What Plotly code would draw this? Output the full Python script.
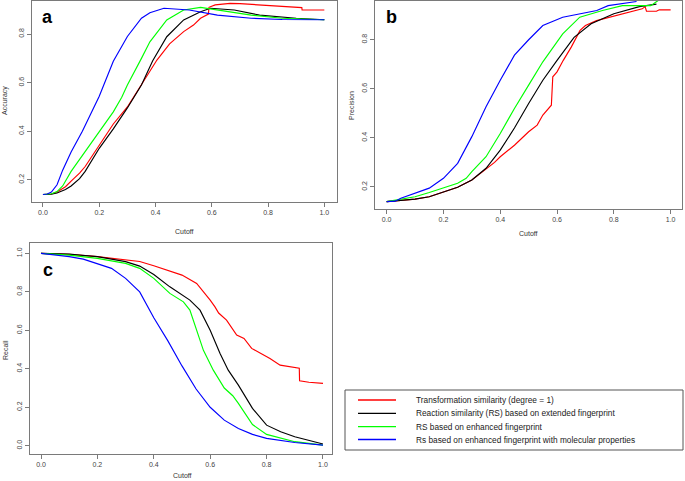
import plotly.graph_objects as go

W, H = 685, 481

# ---------------- data ----------------
series_names = [
    "Transformation similarity (degree = 1)",
    "Reaction similarity (RS) based on extended fingerprint",
    "RS based on enhanced fingerprint",
    "Rs based on enhanced fingerprint with molecular properties",
]
series_colors = ["#ff0000", "#000000", "#00ff00", "#0000ff"]

# Panel a: Accuracy vs cutoff
red_a_x = [0, 0.03, 0.05, 0.08, 0.1, 0.13, 0.15, 0.2, 0.25, 0.3, 0.35, 0.405, 0.45, 0.5, 0.535, 0.56, 0.588, 0.59, 0.612, 0.665, 0.7, 0.8, 0.854, 0.92, 0.921, 1.0]
red_a_y = [0.14, 0.142, 0.15, 0.172, 0.195, 0.228, 0.255, 0.345, 0.43, 0.50, 0.59, 0.693, 0.76, 0.81, 0.837, 0.865, 0.882, 0.91, 0.92, 0.926, 0.925, 0.918, 0.912, 0.909, 0.899, 0.899]
black_a_x = [0, 0.03, 0.05, 0.08, 0.1, 0.13, 0.15, 0.2, 0.25, 0.3, 0.35, 0.39, 0.44, 0.5, 0.56, 0.595, 0.68, 0.77, 0.9, 1.0]
black_a_y = [0.14, 0.141, 0.146, 0.16, 0.175, 0.205, 0.235, 0.33, 0.41, 0.496, 0.59, 0.69, 0.789, 0.858, 0.892, 0.906, 0.899, 0.878, 0.865, 0.859]
green_a_x = [0, 0.03, 0.05, 0.07, 0.1, 0.15, 0.2, 0.25, 0.28, 0.3, 0.35, 0.38, 0.44, 0.5, 0.56, 0.62, 0.74, 0.85, 1.0]
green_a_y = [0.14, 0.143, 0.152, 0.175, 0.235, 0.315, 0.40, 0.48, 0.54, 0.59, 0.70, 0.768, 0.858, 0.899, 0.91, 0.899, 0.878, 0.865, 0.859]
blue_a_x = [0, 0.015, 0.03, 0.05, 0.07, 0.1, 0.14, 0.2, 0.25, 0.3, 0.35, 0.38, 0.43, 0.52, 0.62, 0.74, 0.85, 1.0]
blue_a_y = [0.14, 0.142, 0.15, 0.18, 0.24, 0.315, 0.40, 0.544, 0.688, 0.79, 0.865, 0.888, 0.906, 0.899, 0.878, 0.865, 0.86, 0.859]

# Panel b: Precision vs cutoff
red_b_x = [0, 0.05, 0.1, 0.15, 0.2, 0.25, 0.3, 0.35, 0.38, 0.4, 0.45, 0.5, 0.53, 0.55, 0.58, 0.585, 0.6, 0.622, 0.65, 0.681, 0.7, 0.739, 0.8, 0.833, 0.9, 0.91, 0.915, 0.95, 0.96, 1.0]
red_b_y = [0.14, 0.144, 0.15, 0.16, 0.178, 0.199, 0.228, 0.272, 0.30, 0.323, 0.37, 0.425, 0.452, 0.493, 0.533, 0.649, 0.669, 0.716, 0.77, 0.838, 0.858, 0.878, 0.895, 0.906, 0.926, 0.935, 0.916, 0.916, 0.922, 0.922]
black_b_x = [0, 0.05, 0.1, 0.15, 0.2, 0.25, 0.3, 0.35, 0.4, 0.45, 0.5, 0.55, 0.6, 0.66, 0.72, 0.8, 0.89, 0.95]
black_b_y = [0.14, 0.144, 0.15, 0.16, 0.178, 0.199, 0.228, 0.276, 0.35, 0.44, 0.54, 0.635, 0.716, 0.81, 0.865, 0.906, 0.935, 0.945]
green_b_x = [0, 0.05, 0.1, 0.15, 0.2, 0.25, 0.28, 0.3, 0.35, 0.4, 0.45, 0.48, 0.5, 0.55, 0.62, 0.68, 0.76, 0.83, 0.93, 0.956]
green_b_y = [0.14, 0.15, 0.16, 0.177, 0.195, 0.215, 0.235, 0.262, 0.323, 0.418, 0.52, 0.58, 0.615, 0.71, 0.824, 0.892, 0.919, 0.939, 0.939, 0.96]
blue_b_x = [0, 0.03, 0.05, 0.1, 0.15, 0.2, 0.25, 0.3, 0.35, 0.4, 0.45, 0.5, 0.55, 0.62, 0.7, 0.74, 0.78, 0.88]
blue_b_y = [0.14, 0.142, 0.154, 0.174, 0.195, 0.235, 0.296, 0.405, 0.527, 0.635, 0.737, 0.80, 0.858, 0.892, 0.910, 0.919, 0.939, 0.956]

# Panel c: Recall vs cutoff
red_c_x = [0, 0.1, 0.2, 0.3, 0.35, 0.4, 0.457, 0.5, 0.552, 0.582, 0.6, 0.617, 0.63, 0.658, 0.694, 0.72, 0.747, 0.78, 0.812, 0.848, 0.9, 0.916, 0.917, 0.95, 1.0]
red_c_y = [1.0, 0.995, 0.983, 0.965, 0.958, 0.936, 0.91, 0.887, 0.844, 0.792, 0.757, 0.722, 0.69, 0.653, 0.575, 0.558, 0.506, 0.48, 0.454, 0.419, 0.407, 0.403, 0.338, 0.33, 0.324]
black_c_x = [0, 0.1, 0.2, 0.3, 0.35, 0.4, 0.457, 0.528, 0.564, 0.6, 0.635, 0.664, 0.7, 0.75, 0.8, 0.85, 0.9, 1.0]
black_c_y = [1.0, 0.996, 0.983, 0.957, 0.934, 0.89, 0.826, 0.757, 0.705, 0.60, 0.48, 0.393, 0.315, 0.194, 0.107, 0.073, 0.047, 0.009]
green_c_x = [0, 0.1, 0.2, 0.3, 0.35, 0.4, 0.457, 0.505, 0.528, 0.552, 0.576, 0.611, 0.65, 0.68, 0.7, 0.75, 0.8, 0.9, 1.0]
green_c_y = [1.0, 0.991, 0.974, 0.948, 0.922, 0.87, 0.792, 0.748, 0.705, 0.60, 0.496, 0.393, 0.30, 0.26, 0.22, 0.11, 0.059, 0.021, 0.003]
blue_c_x = [0, 0.05, 0.1, 0.15, 0.2, 0.25, 0.3, 0.35, 0.4, 0.45, 0.5, 0.55, 0.6, 0.65, 0.7, 0.75, 0.8, 0.9, 1.0]
blue_c_y = [1.0, 0.991, 0.983, 0.97, 0.948, 0.922, 0.87, 0.80, 0.665, 0.545, 0.415, 0.295, 0.20, 0.133, 0.09, 0.059, 0.038, 0.017, 0.003]

x_ticks = [0.0, 0.2, 0.4, 0.6, 0.8, 1.0]
y_ticks_ab = [0.2, 0.4, 0.6, 0.8]
y_ticks_c = [0.0, 0.2, 0.4, 0.6, 0.8, 1.0]

panel_letters = ["a", "b", "c"]
y_titles = ["Accuracy", "Precision", "Recall"]
x_title = "Cutoff"

panels = [
    ("x", "y", [(red_a_x, red_a_y), (black_a_x, black_a_y), (green_a_x, green_a_y), (blue_a_x, blue_a_y)]),
    ("x2", "y2", [(red_b_x, red_b_y), (black_b_x, black_b_y), (green_b_x, green_b_y), (blue_b_x, blue_b_y)]),
    ("x3", "y3", [(red_c_x, red_c_y), (black_c_x, black_c_y), (green_c_x, green_c_y), (blue_c_x, blue_c_y)]),
]

# ---------------- figure ----------------
fig = go.Figure()
for xa, ya, sers in panels:
    for (xs, ys), name, col in zip(sers, series_names, series_colors):
        fig.add_trace(go.Scatter(x=xs, y=ys, mode="lines", name=name, xaxis=xa, yaxis=ya,
                                 line=dict(color=col, width=1.15), showlegend=False,
                                 cliponaxis=True, hoverinfo="skip"))

FONT = "Liberation Sans, Arial, sans-serif"
frame_col = "#7a7a7a"
tick_font = dict(family=FONT, size=7, color="#444444")


def px2x(p):
    return p / W


def px2y(p):
    return 1 - p / H


def xaxis(dom, rng, anchor):
    return dict(domain=[px2x(dom[0]), px2x(dom[1])], range=rng, anchor=anchor,
                tickvals=x_ticks, ticktext=["%.1f" % v for v in x_ticks],
                showgrid=False, zeroline=False, showline=True, mirror=True,
                linecolor=frame_col, linewidth=1, ticks="outside", ticklen=4,
                tickcolor=frame_col, tickfont=tick_font, automargin=False, fixedrange=True)


def yaxis(dom, rng, anchor, ticks):
    return dict(domain=[px2y(dom[1]), px2y(dom[0])], range=rng, anchor=anchor,
                tickvals=ticks, ticktext=["%.1f" % v for v in ticks], tickangle=-90,
                showgrid=False, zeroline=False, showline=True, mirror=True,
                linecolor=frame_col, linewidth=1, ticks="outside", ticklen=4,
                tickcolor=frame_col, tickfont=tick_font, automargin=False, fixedrange=True)


fig.update_layout(
    width=W, height=H, margin=dict(l=0, r=0, t=0, b=0, pad=0),
    paper_bgcolor="white", plot_bgcolor="white", showlegend=False,
    xaxis=xaxis((32, 337), [-0.039, 1.045], "y"),
    yaxis=yaxis((1, 202), [0.109, 0.936], "x", y_ticks_ab),
    xaxis2=xaxis((375, 682), [-0.041, 1.04], "y2"),
    yaxis2=yaxis((0.5, 209), [0.11, 0.96], "x2", y_ticks_ab),
    xaxis3=xaxis((30, 332), [-0.039, 1.032], "y3"),
    yaxis3=yaxis((243, 454), [-0.043, 1.054], "x3", y_ticks_c),
)

ann = []
title_font = dict(family=FONT, size=7, color="#333333")
# axis titles
for txt, x, y, ang in [
    (y_titles[0], 5, 101, -90), (x_title, 184, 231, 0),
    (y_titles[1], 351, 106, -90), (x_title, 528, 233, 0),
    (y_titles[2], 5, 350, -90), (x_title, 182, 475, 0),
]:
    ann.append(dict(text=txt, x=px2x(x), y=px2y(y), xref="paper", yref="paper",
                    xanchor="center", yanchor="middle", showarrow=False,
                    textangle=ang, font=title_font))
# panel letters
for txt, x, y in zip(panel_letters, [47.5, 392, 47.5], [17, 17, 270]):
    ann.append(dict(text="<b>%s</b>" % txt, x=px2x(x), y=px2y(y), xref="paper", yref="paper",
                    xanchor="center", yanchor="middle", showarrow=False,
                    font=dict(family=FONT, size=18, color="black")))

# legend box (drawn manually to match R legend proportions)
shapes = [dict(type="rect", xref="paper", yref="paper",
               x0=px2x(345), x1=px2x(683), y0=px2y(450), y1=px2y(390),
               line=dict(color="#555555", width=1), fillcolor="white")]
row_y = [400, 413.3, 426.7, 439.5]
for name, col, ry in zip(series_names, series_colors, row_y):
    shapes.append(dict(type="line", xref="paper", yref="paper",
                       x0=px2x(358), x1=px2x(396), y0=px2y(ry), y1=px2y(ry),
                       line=dict(color=col, width=1.3)))
    ann.append(dict(text=name, x=px2x(414), y=px2y(ry), xref="paper", yref="paper",
                    xanchor="left", yanchor="middle", showarrow=False,
                    font=dict(family=FONT, size=8.3, color="#1a1a1a")))

fig.update_layout(annotations=ann, shapes=shapes)
fig.write_html("out.html", config={"displayModeBar": False, "staticPlot": True},
               post_script="document.body.style.margin='0';document.body.style.overflow='hidden';")
